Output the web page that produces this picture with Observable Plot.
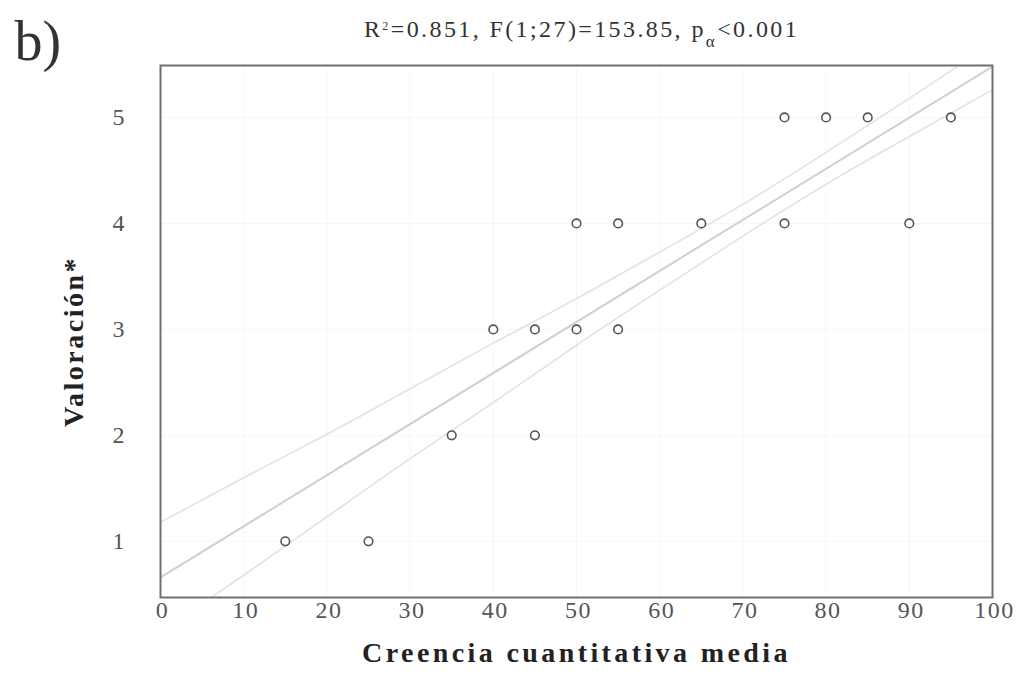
<!DOCTYPE html>
<html>
<head>
<meta charset="utf-8">
<script src="https://cdn.jsdelivr.net/npm/d3@7"></script>
<script src="https://cdn.jsdelivr.net/npm/@observablehq/plot@0.6"></script>
<style>
  html, body { margin: 0; padding: 0; background: #fff; }
  svg { display: block; }
  g[aria-label="x-axis tick label"] text { letter-spacing: 1.5px; }
  g[aria-label="y-axis tick label"] text { letter-spacing: 2px; }
  g.ttl text { letter-spacing: 2.4px; }
  g.xlab text { letter-spacing: 3.4px; }
  g.ylab text { letter-spacing: 2.5px; }
</style>
</head>
<body>
<div id="chart"></div>
<script>
// Observed points (creencia cuantitativa media, valoración)
const creencia   = [15, 25, 35, 45, 40, 45, 50, 55, 50, 55, 65, 75, 90, 75, 80, 85, 95];
const valoracion = [ 1,  1,  2,  2,  3,  3,  3,  3,  4,  4,  4,  4,  4,  5,  5,  5,  5];

// Fitted regression line
const fitX = [0, 100];
const fitY = [0.66, 5.48];

// Confidence band curves
const ciX     = [0, 10, 20, 30, 40, 50, 60, 70, 80, 90, 100];
const ciUpper = [1.18, 1.60, 2.01, 2.44, 2.87, 3.29, 3.73, 4.18, 4.67, 5.18, 5.70];
const ciLower = [0.14, 0.68, 1.23, 1.78, 2.31, 2.85, 3.37, 3.88, 4.37, 4.82, 5.26];

const xTicks = [0, 10, 20, 30, 40, 50, 60, 70, 80, 90, 100];
const yTicks = [1, 2, 3, 4, 5];

const titleText = "R²=0.851, F(1;27)=153.85, pα<0.001";
const panelLabel = "b)";
const xLabel = "Creencia cuantitativa media";
const yLabel = "Valoración*";

const points = creencia.map((x, i) => ({x, y: valoracion[i]}));
const fit = fitX.map((x, i) => ({x, y: fitY[i]}));
const upper = ciX.map((x, i) => ({x, y: ciUpper[i]}));
const lower = ciX.map((x, i) => ({x, y: ciLower[i]}));

const serif = "Liberation Serif, 'Times New Roman', serif";

const chart = Plot.plot({
  width: 1016,
  height: 682,
  marginLeft: 160,
  marginRight: 24,
  marginTop: 65,
  marginBottom: 85,
  style: {fontFamily: serif, background: "#fff", color: "#555"},
  x: {domain: [0, 100]},
  y: {domain: [0.47, 5.49]},
  marks: [
    Plot.gridX(xTicks, {stroke: "#000", strokeOpacity: 0.035}),
    Plot.gridY(yTicks, {stroke: "#000", strokeOpacity: 0.035}),
    Plot.line(upper, {x: "x", y: "y", curve: "natural", stroke: "#e2e2e2", strokeWidth: 1.6, clip: true}),
    Plot.line(lower, {x: "x", y: "y", curve: "natural", stroke: "#e2e2e2", strokeWidth: 1.6, clip: true}),
    Plot.line(fit, {x: "x", y: "y", stroke: "#cfcfcf", strokeWidth: 2, clip: true}),
    Plot.dot(points, {x: "x", y: "y", r: 4.3, stroke: "#555", strokeWidth: 1.6, fill: "#fff"}),
    Plot.frame({stroke: "#707070", strokeWidth: 2}),
    Plot.axisX({ticks: xTicks, tickSize: 0, tickPadding: 3, dx: 2, fontSize: 24, label: null, fill: "#555", tickFormat: d => String(d)}),
    Plot.axisY({ticks: yTicks, tickSize: 0, tickPadding: 34, fontSize: 24, label: null, fill: "#555", tickFormat: d => String(d)}),
    Plot.text([xLabel], {frameAnchor: "bottom", dy: 64, dx: 0, fontSize: 28, fontWeight: "bold", fill: "#222", className: "xlab"}),
    Plot.text([yLabel], {frameAnchor: "left", textAnchor: "middle", dx: -86, dy: 10, rotate: -90, fontSize: 28, fontWeight: "bold", fill: "#222", className: "ylab"}),
    Plot.text([titleText], {frameAnchor: "top", dy: -46, dx: 5, fontSize: 24, fill: "#333", className: "ttl"}),
    Plot.text([panelLabel], {frameAnchor: "top-left", dx: -146, dy: -45, textAnchor: "start", fontSize: 56, fill: "#333"})
  ]
});

document.getElementById("chart").appendChild(chart);

// Superscript / subscript styling in the title
const t = d3.select(chart).select("g.ttl text");
if (!t.empty()) {
  t.text(null);
  t.append("tspan").text("R");
  t.append("tspan").attr("baseline-shift", "super").attr("font-size", 12).text("2");
  t.append("tspan").text("=0.851, F(1;27)=153.85, p");
  t.append("tspan").attr("baseline-shift", "sub").attr("font-size", 17).text("α");
  t.append("tspan").text("<0.001");
}
</script>
</body>
</html>
